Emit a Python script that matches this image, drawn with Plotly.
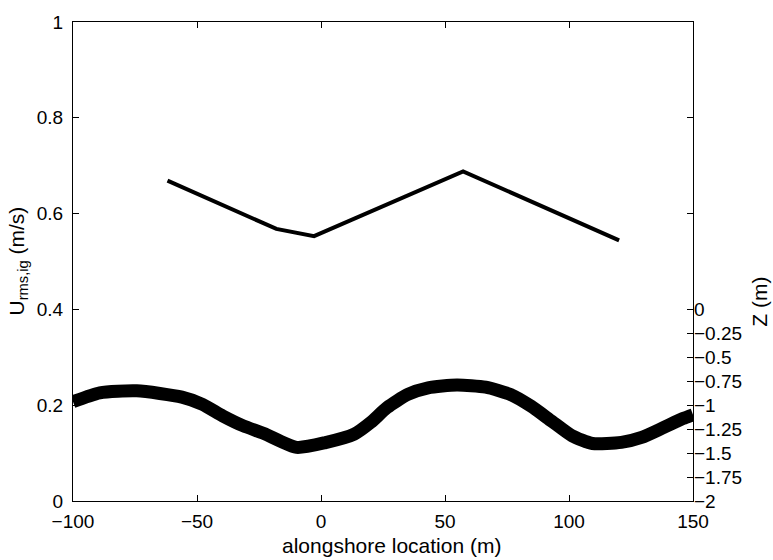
import plotly.graph_objects as go

# Urms,ig (m/s) vs alongshore location
u_x = [-61.9, -18.0, -2.8, 57.3, 120.2]
u_val = [0.669, 0.568, 0.553, 0.688, 0.544]

# Bathymetry Z (m) vs alongshore location
z_x = [-100, -89.2, -74.3, -56.1, -47.8, -39.6, -31.3, -23.0, -9.8, 1.8, 13.4, 20.0,
       26.6, 35.0, 43.2, 54.8, 66.4, 76.4, 84.6, 92.9, 101.2, 109.5, 121.1, 129.3,
       137.6, 145.9, 150]
z_val = [-0.964, -0.871, -0.85, -0.916, -0.991, -1.112, -1.216, -1.295, -1.44, -1.39,
         -1.302, -1.181, -1.026, -0.888, -0.819, -0.79, -0.812, -0.888, -1.009, -1.164,
         -1.319, -1.40, -1.388, -1.336, -1.24, -1.14, -1.10]

x_ticks = [-100, -50, 0, 50, 100, 150]
x_ticktext = ["\u2212100", "\u221250", "0", "50", "100", "150"]
y_ticks = [0, 0.2, 0.4, 0.6, 0.8, 1]
y_ticktext = ["0", "0.2", "0.4", "0.6", "0.8", "1"]
z_ticks = [0, -0.25, -0.5, -0.75, -1, -1.25, -1.5, -1.75, -2]
z_ticktext = ["0", "\u22120.25", "\u22120.5", "\u22120.75", "\u22121", "\u22121.25",
              "\u22121.5", "\u22121.75", "\u22122"]

font = "Liberation Sans, Arial, Helvetica, sans-serif"
tick_size = 19
title_size = 21

L, R, T, B = 73, 80, 12, 59
W, H = 773, 560
pw = W - L - R

fig = go.Figure()
fig.add_trace(go.Scatter(x=z_x, y=z_val, yaxis="y2", mode="lines",
                         line=dict(color="black", width=13, shape="spline", smoothing=0.6),
                         showlegend=False, hoverinfo="skip"))
fig.add_trace(go.Scatter(x=u_x, y=u_val, mode="lines",
                         line=dict(color="black", width=4),
                         showlegend=False))

fig.update_layout(
    width=W, height=H,
    margin=dict(l=L, r=R, t=T, b=B),
    paper_bgcolor="white", plot_bgcolor="white",
    font=dict(family=font, size=tick_size, color="black"),
    xaxis=dict(range=[-100, 150], tickvals=x_ticks, ticktext=x_ticktext,
               ticks="inside", ticklen=6, tickwidth=1, tickcolor="black",
               showline=True, linecolor="black", linewidth=1, mirror="ticks",
               showgrid=False, zeroline=False, ticklabelstandoff=3,
               tickfont=dict(size=tick_size)),
    yaxis=dict(range=[0, 1], tickvals=y_ticks, ticktext=y_ticktext,
               ticks="inside", ticklen=6, tickwidth=1, tickcolor="black",
               showline=True, linecolor="black", linewidth=1, mirror="ticks",
               showgrid=False, zeroline=False, ticklabelstandoff=5,
               tickfont=dict(size=tick_size)),
    yaxis2=dict(range=[-2, 3], overlaying="y", side="right",
                tickvals=z_ticks, ticktext=z_ticktext,
                ticks="inside", ticklen=6, tickwidth=1, tickcolor="black",
                showline=False, showgrid=False, zeroline=False,
                tickfont=dict(size=tick_size)),
    annotations=[
        dict(text="Z (m)", x=(760 - L) / pw, xref="paper", y=0.08, yref="y2",
             textangle=-90, showarrow=False, font=dict(size=title_size),
             xanchor="center", yanchor="middle"),
        dict(text="U<sub>rms,ig</sub> (m/s)", x=(17 - L) / pw, xref="paper", y=0.5, yref="paper",
             textangle=-90, showarrow=False, font=dict(size=title_size),
             xanchor="center", yanchor="middle"),
        dict(text="alongshore location (m)", x=(391 - L) / pw, xref="paper", y=0, yref="paper",
             yshift=-44, showarrow=False, font=dict(size=title_size),
             xanchor="center", yanchor="middle"),
    ],
)

fig.write_html("out.html")
